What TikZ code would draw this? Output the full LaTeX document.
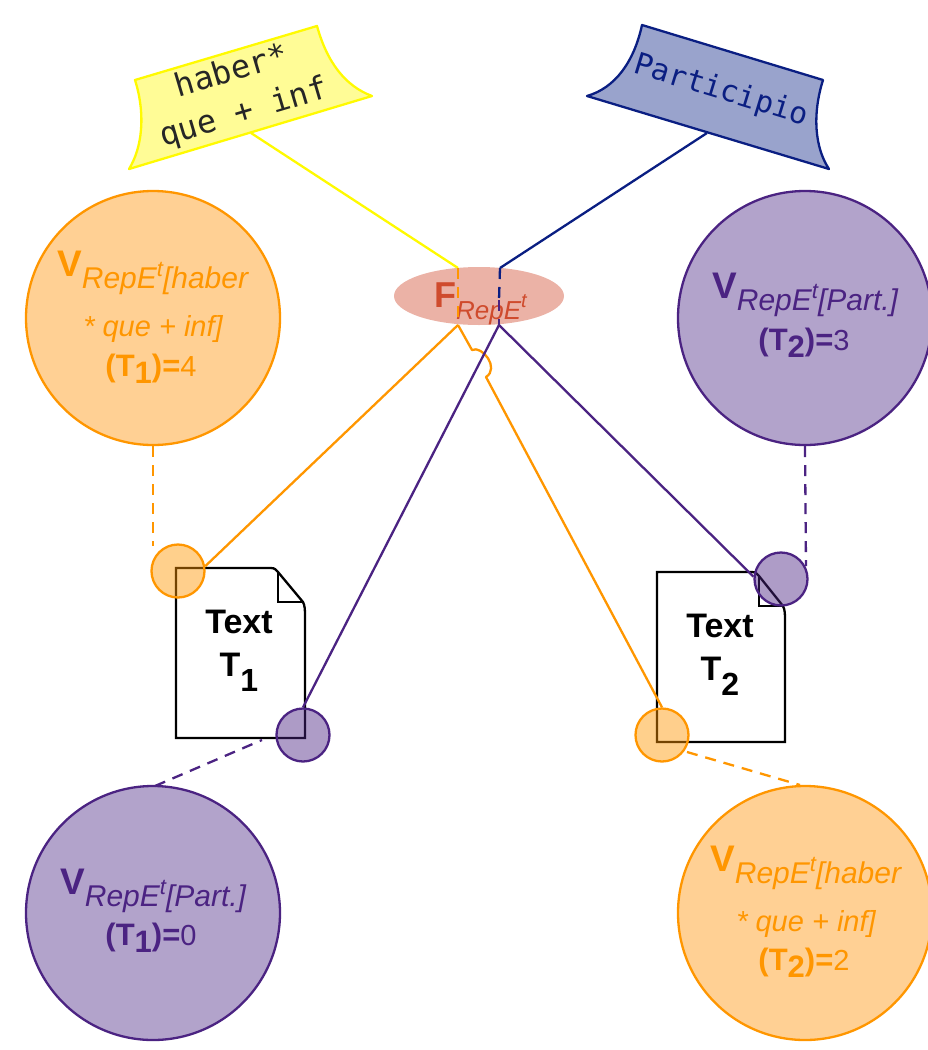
\documentclass[tikz,border=0pt]{standalone}
\usepackage{fontspec}
\setmainfont{Liberation Sans}
\newfontfamily\signfont{DejaVu Sans Mono}
\usetikzlibrary{shapes.geometric}
\definecolor{orgS}{RGB}{255,150,0}
\definecolor{orgF}{RGB}{255,208,148}
\definecolor{purS}{RGB}{75,35,130}
\definecolor{purF}{RGB}{178,163,203}
\definecolor{navyS}{RGB}{10,30,130}
\definecolor{navyF}{RGB}{153,163,204}
\definecolor{yelS}{RGB}{255,250,0}
\definecolor{yelF}{RGB}{255,252,150}
\definecolor{redT}{RGB}{207,75,45}
\definecolor{redF}{RGB}{235,178,166}
\newcommand{\fsz}[1]{\fontsize{#1}{#1}\selectfont}
\newcommand{\vsub}[1]{{\fsz{37}\bfseries V}\raisebox{-12pt}{\fsz{30}\itshape RepE\raisebox{12pt}{\fsz{22}t}#1}}
\newcommand{\tval}[2]{{\fsz{31}\bfseries (T\raisebox{-7pt}{\fsz{31}#1})=}{\fsz{29}#2}}
\tikzset{
  x=1pt,y=-1pt,
  bigc/.style={circle,minimum size=254pt,inner sep=0pt,line width=2.3pt},
  smallc/.style={circle,minimum size=53pt,inner sep=0pt,line width=2.3pt,fill opacity=.45},
  orgbig/.style={bigc,draw=orgS,fill=orgF},
  purbig/.style={bigc,draw=purS,fill=purF},
  orgsmall/.style={smallc,draw=orgS,fill=orgS},
  pursmall/.style={smallc,draw=purS,fill=purS},
  orgtext/.style={text=orgS,inner sep=0pt,anchor=center},
  purtext/.style={text=purS,inner sep=0pt,anchor=center},
  orgline/.style={draw=orgS,line width=2.3pt},
  purline/.style={draw=purS,line width=2.3pt},
  dashline/.style={dash pattern=on 11pt off 8pt},
  docshape/.style={draw=black,line width=2.3pt,fill=white,line join=miter},
  doctext/.style={inner sep=0pt,align=center,font=\fsz{34}\bfseries,text=black},
  signtext/.style={inner sep=0pt,align=center,font=\signfont\fsz{32}},
}
\begin{document}
\begin{tikzpicture}
\useasboundingbox (0,0) rectangle (927,1050);

% signs
\draw[draw=yelS,fill=yelF,line width=2.3pt,line join=round]
  (135,80) -- (317,26) .. controls (327,62) and (345,86) .. (372,96)
  -- (129,169) .. controls (142,148) and (146,115) .. (135,80) -- cycle;
\node[signtext,text=black!85,rotate=16.5] (s1) at (238,93) {haber*\\[11pt]que + inf};
\draw[draw=navyS,fill=navyF,line width=2.3pt,line join=round]
  (642,25) -- (823,80) .. controls (812,115) and (815,148) .. (829,169)
  -- (587,96) .. controls (615,88) and (634,62) .. (642,25) -- cycle;
\node[signtext,text=navyS,rotate=-17,font=\signfont\fsz{30}] (s2) at (721,91) {Participio};
\coordinate (s1b) at (251,133);
\coordinate (s2b) at (707,133);

% big circles
\node[orgbig] (v1) at (153,318) {};
\node[purbig] (v2) at (805,318) {};
\node[purbig] (v3) at (153,913) {};
\node[orgbig] (v4) at (805,913) {};

% central ellipse
\node[ellipse,fill=redF,minimum width=170pt,minimum height=58pt,inner sep=0pt] (f) at (479,296) {};
\node[text=redT,inner sep=0pt,anchor=base west] (ft) at (434,307)
  {{\fsz{36}\bfseries F}\raisebox{-12pt}{\fsz{26}\itshape RepE\raisebox{12pt}{\fsz{20}t}}};
\coordinate (ol) at (458,268);
\coordinate (or) at (458,325);
\coordinate (nl) at (500,268);
\coordinate (nm) at (499,300);
\coordinate (nr) at (499,325);
\coordinate (ja) at (472,350);
\coordinate (jb) at (486,377);

% documents
\draw[docshape] (176,568) -- (271,568) .. controls (275,568) and (276,570) .. (278,572) -- (303,602)
  .. controls (305,606) and (305,610) .. (305,617) -- (305,738) -- (176,738) -- cycle;
\draw[docshape,fill=none] (278,572) -- (278,602) -- (303,602);
\node[doctext] (d1) at (239,651) {Text\\[9pt]T\raisebox{-15pt}{\fsz{32}1}};
\draw[docshape] (657,572) -- (752,572) .. controls (756,572) and (757,574) .. (759,576) -- (783,606)
  .. controls (785,610) and (785,614) .. (785,621) -- (785,742) -- (657,742) -- cycle;
\draw[docshape,fill=none] (759,576) -- (759,606) -- (783,606);
\node[doctext] (d2) at (720,655) {Text\\[9pt]T\raisebox{-15pt}{\fsz{32}2}};

% small circles
\node[orgsmall] (c1) at (178,571) {};
\node[pursmall] (c2) at (303,735) {};
\node[pursmall] (c3) at (781,579) {};
\node[orgsmall] (c4) at (662,735) {};

% connectors
\draw[draw=yelS,line width=2.3pt] (s1b) -- (ol);
\draw[draw=navyS,line width=2.3pt] (s2b) -- (nl);
\draw[orgline,dashline] (ol) -- (or);
\draw[draw=navyS,line width=2.3pt,dashline] (nl) -- (nm);
\draw[purline,dashline] (nm) -- (nr);
\draw[orgline] (or) -- (c1.10);
\draw[orgline,line join=round] (or) -- (ja) .. controls (482,345) and (500,368) .. (jb) -- (c4.north);
\draw[purline] (nr) -- (c2.north);
\draw[purline] (nr) -- (c3.175);
\coordinate (c1d) at (153,546);
\coordinate (c3d) at (806,566);
\coordinate (v3t) at (155,786);
\coordinate (c2d) at (262,740);
\coordinate (c4d) at (687,752);
\coordinate (v4t) at (800,785);
\draw[orgline,dashline] (v1.south) -- (c1d);
\draw[purline,dashline] (v2.south) -- (c3d);
\draw[purline,dashline] (v3t) -- (c2d);
\draw[orgline,dashline] (c4d) -- (v4t);

% circle labels
\node[orgtext,anchor=base west] (v1a) at (57,276) {\vsub{[haber}};
\node[orgtext,font=\fsz{29}\itshape,anchor=base] (v1b) at (153,336) {* que + inf]};
\node[orgtext,anchor=base] (v1c) at (151,376) {\tval{1}{4}};
\node[purtext,anchor=base west] (v2a) at (712,298) {\vsub{[Part.]}};
\node[purtext,anchor=base] (v2c) at (804,350) {\tval{2}{3}};
\node[purtext,anchor=base west] (v3a) at (60,894) {\vsub{[Part.]}};
\node[purtext,anchor=base] (v3c) at (151,945) {\tval{1}{0}};
\node[orgtext,anchor=base west] (v4a) at (710,871) {\vsub{[haber}};
\node[orgtext,font=\fsz{29}\itshape,anchor=base] (v4b) at (806,931) {* que + inf]};
\node[orgtext,anchor=base] (v4c) at (804,970) {\tval{2}{2}};
\end{tikzpicture}
\end{document}
